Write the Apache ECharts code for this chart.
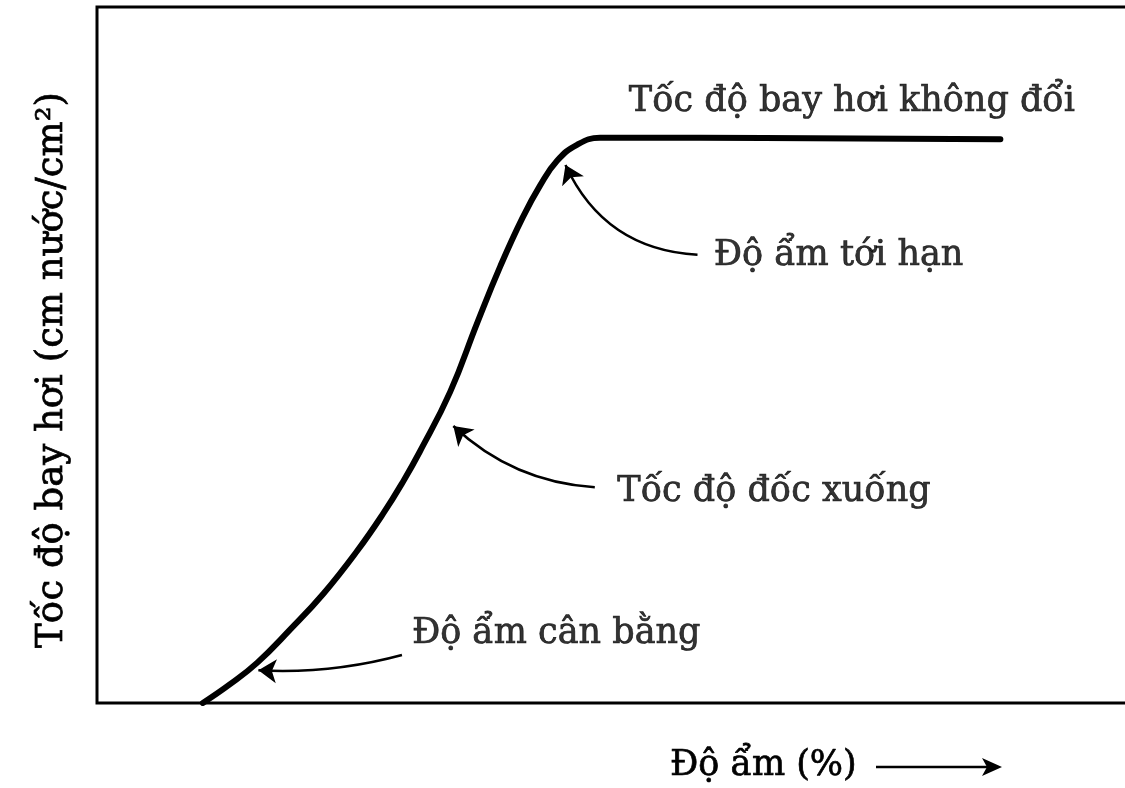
<!DOCTYPE html>
<html>
<head>
<meta charset="utf-8">
<script src="https://cdn.jsdelivr.net/npm/echarts@6/dist/echarts.min.js"></script>
<style>
  html, body { margin: 0; padding: 0; background: #fff; }
  #chart { width: 1125px; height: 788px; }
</style>
</head>
<body>
<div id="chart"></div>
<script>
// Drying curve: evaporation rate against moisture content
const moisture = [10.1, 12.7, 15.3, 18.4, 21.6, 24.8, 27.3, 29.2, 30.8, 33.7, 36.3, 38.5, 40.6, 42.3, 43.9, 45.8, 48.0, 57.5, 86.2];
const rate     = [0,    2.7,  5.8,  10.5, 15.7, 21.8, 27.2, 31.8, 36.1, 44.7, 54.7, 62.8, 69.7, 74.4, 77.9, 80.2, 81.2, 81.2, 81.0];

// Annotation texts and where they sit (left edge, vertical middle)
const noteTexts = ['Tốc độ bay hơi không đổi', 'Độ ẩm tới hạn', 'Tốc độ đốc xuống', 'Độ ẩm cân bằng'];
const noteX = [50.7, 58.8, 49.6, 30.0];
const noteY = [86.4, 64.3, 30.3, 9.9];

// Pointer arrows: tail -> tip
const arrowTailX = [57.3, 47.5, 29.1];
const arrowTailY = [64.4, 31.0, 6.9];
const arrowTipX  = [44.7, 34.0, 15.4];
const arrowTipY  = [77.3, 39.8, 4.7];
const arrowBend  = [0.3, 0.18, 0.08];

const xTitle = 'Độ ẩm (%)';
const yTitle = 'Tốc độ bay hơi (cm nước/cm²)';

const FONT = '"DejaVu Serif", "Liberation Serif", serif';
const FONT_SIZE = 35;
const INK = 0.7; // slight outline to thicken the serif glyphs
const chart = echarts.init(document.getElementById('chart'));

const curve = moisture.map((x, i) => [x, rate[i]]);
const notes = noteTexts.map((t, i) => ({ value: [noteX[i], noteY[i]], name: t }));
const arrows = arrowTailX.map((x, i) => ({
  coords: [[x, arrowTailY[i]], [arrowTipX[i], arrowTipY[i]]],
  lineStyle: { curveness: arrowBend[i] }
}));

chart.setOption({
  animation: false,
  backgroundColor: '#fff',
  // plot box runs past the right edge of the page, so only three sides show
  grid: {
    left: 97, width: 1048, top: 7, bottom: 85,
    outerBoundsMode: 'none',
    containLabel: false,
    show: true, borderColor: '#000', borderWidth: 3, backgroundColor: '#fff'
  },
  xAxis: {
    type: 'value', min: 0, max: 100,
    axisLine: { show: false }, axisTick: { show: false },
    axisLabel: { show: false }, splitLine: { show: false }
  },
  yAxis: {
    type: 'value', min: 0, max: 100,
    axisLine: { show: false }, axisTick: { show: false },
    axisLabel: { show: false }, splitLine: { show: false }
  },
  series: [
    {
      type: 'line',
      data: curve,
      smooth: 0.45,
      showSymbol: false,
      lineStyle: { color: '#000', width: 6, cap: 'round', join: 'round' },
      z: 3
    },
    {
      type: 'lines',
      coordinateSystem: 'cartesian2d',
      data: arrows,
      symbol: ['none', 'arrow'],
      symbolSize: 18,
      lineStyle: { color: '#000', width: 2.5, opacity: 1 },
      z: 4
    },
    {
      type: 'scatter',
      data: notes,
      symbolSize: 1,
      itemStyle: { color: 'rgba(0,0,0,0)' },
      label: {
        show: true,
        position: 'right',
        distance: 0,
        formatter: p => p.name,
        fontFamily: FONT,
        fontSize: FONT_SIZE,
        color: '#000',
        textBorderColor: '#000',
        textBorderWidth: INK
      },
      z: 5
    }
  ],
  graphic: [
    {
      type: 'text',
      x: 670, y: 766,
      style: {
        text: xTitle, font: FONT_SIZE + 'px ' + FONT, fill: '#000',
        stroke: '#000', lineWidth: INK,
        textAlign: 'left', textVerticalAlign: 'middle'
      }
    },
    {
      type: 'line',
      shape: { x1: 876, y1: 767, x2: 992, y2: 767 },
      style: { stroke: '#000', lineWidth: 2.5 }
    },
    {
      type: 'polygon',
      shape: { points: [[1002, 767], [982, 758], [987, 767], [982, 776]] },
      style: { fill: '#000' }
    },
    {
      type: 'text',
      x: 52, y: 370,
      rotation: Math.PI / 2,
      style: {
        text: yTitle, font: '37px ' + FONT, fill: '#000',
        stroke: '#000', lineWidth: INK,
        textAlign: 'center', textVerticalAlign: 'middle'
      }
    }
  ]
});
</script>
</body>
</html>
